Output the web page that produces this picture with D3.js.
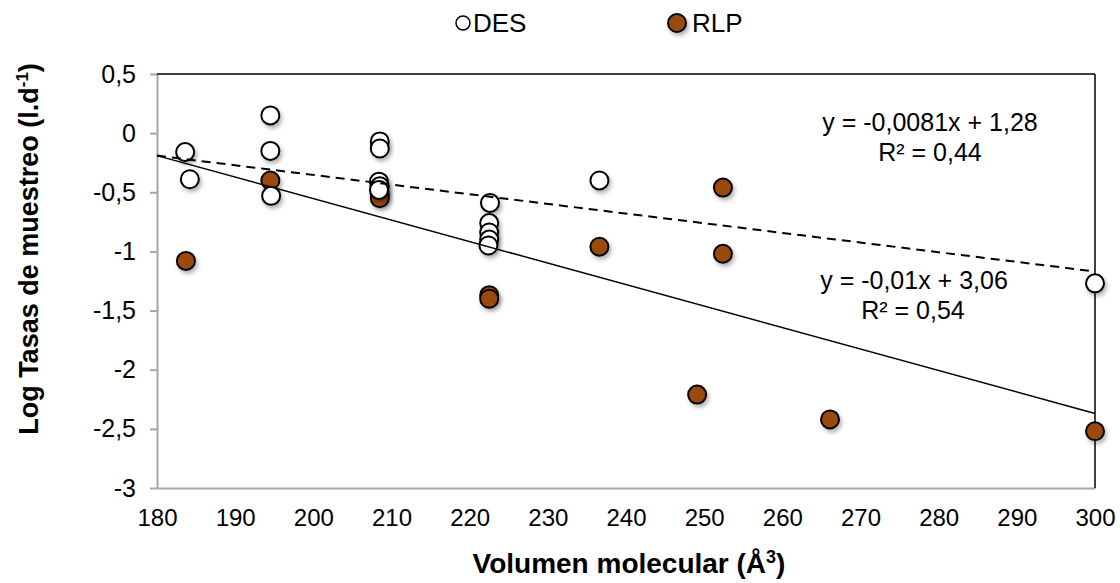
<!DOCTYPE html>
<html><head><meta charset="utf-8">
<script src="https://cdn.jsdelivr.net/npm/d3@7"></script>
<style>body{margin:0;background:#fff}svg{display:block}text{font-family:"Liberation Sans",Arial,sans-serif}</style>
</head><body><svg id="c" width="1120" height="583"></svg>
<script>
const desX = [183.6, 184.2, 194.5, 194.5, 194.6, 208.5, 208.5, 208.4, 208.5, 208.4, 222.6, 222.5, 222.5, 222.5, 222.4, 236.6, 300];
const desY = [-0.16, -0.39, 0.15, -0.15, -0.53, -0.07, -0.13, -0.41, -0.45, -0.48, -0.59, -0.76, -0.84, -0.90, -0.95, -0.40, -1.27];
const rlpX = [183.7, 194.5, 208.5, 208.5, 222.5, 222.5, 236.6, 249.1, 252.4, 252.4, 266.1, 300];
const rlpY = [-1.08, -0.40, -0.52, -0.55, -1.37, -1.40, -0.96, -2.21, -0.46, -1.02, -2.42, -2.52];
const trendDesX = [180, 300], trendDesY = [-0.19, -1.17];
const trendRlpX = [180, 300], trendRlpY = [-0.19, -2.37];
const xTicks = [180,190,200,210,220,230,240,250,260,270,280,290,300];
const yTicks = [0.5,0,-0.5,-1,-1.5,-2,-2.5,-3];
const seriesNames = ["DES","RLP"];
const eqDes = ["y = -0,0081x + 1,28","R² = 0,44"];
const eqRlp = ["y = -0,01x + 3,06","R² = 0,54"];

const svg = d3.select("#c");
const L=157,R=1095,T=74,B=488;
const x = d3.scaleLinear().domain([180,300]).range([L,R]);
const y = d3.scaleLinear().domain([-3,0.5]).range([B,T]);
const fmt = d => String(d).replace(".", ",");
const brown = "#9c4a0b";

const defs = svg.append("defs");
const f = defs.append("filter").attr("id","sh").attr("x","-50%").attr("y","-50%").attr("width","200%").attr("height","200%");
f.append("feDropShadow").attr("dx",2).attr("dy",3).attr("stdDeviation",2.2).attr("flood-color","#000").attr("flood-opacity",0.3);

// axes
const ya = svg.append("g").attr("transform",`translate(${L},0)`)
  .call(d3.axisLeft(y).tickValues(yTicks).tickFormat(fmt).tickSize(7).tickSizeOuter(0));
ya.select(".domain").attr("stroke","#a6a6a6").attr("stroke-width",2);
ya.selectAll(".tick line").attr("stroke","#a6a6a6").attr("stroke-width",2);
ya.selectAll(".tick text").attr("font-size",25).attr("fill","#000").attr("x",-21);

const xa = svg.append("g").attr("transform",`translate(0,${B})`)
  .call(d3.axisBottom(x).tickValues(xTicks).tickFormat(d3.format("d")).tickSize(0).tickSizeOuter(0));
xa.select(".domain").attr("stroke","#a6a6a6").attr("stroke-width",2);
xa.selectAll(".tick text").attr("font-size",24).attr("fill","#000").attr("y",21);

svg.append("line").attr("x1",L).attr("x2",R).attr("y1",T).attr("y2",T).attr("stroke","#000").attr("stroke-width",1.5);
svg.append("line").attr("x1",R).attr("x2",R).attr("y1",T).attr("y2",B).attr("stroke","#000").attr("stroke-width",1.5);

// points
svg.append("g").selectAll("circle").data(rlpX.map((v,i)=>[v,rlpY[i]])).join("circle")
  .attr("cx",d=>x(d[0])).attr("cy",d=>y(d[1])).attr("r",9)
  .attr("fill",brown).attr("stroke","#000").attr("stroke-width",2).attr("filter","url(#sh)");
svg.append("g").selectAll("circle").data(desX.map((v,i)=>[v,desY[i]])).join("circle")
  .attr("cx",d=>x(d[0])).attr("cy",d=>y(d[1])).attr("r",9)
  .attr("fill","#fff").attr("stroke","#000").attr("stroke-width",2).attr("filter","url(#sh)");

// trend lines
const line = d3.line().x(d=>x(d[0])).y(d=>y(d[1]));
svg.append("path").attr("d",line(trendDesX.map((v,i)=>[v,trendDesY[i]])))
  .attr("fill","none").attr("stroke","#000").attr("stroke-width",2).attr("stroke-dasharray","9,6");
svg.append("path").attr("d",line(trendRlpX.map((v,i)=>[v,trendRlpY[i]])))
  .attr("fill","none").attr("stroke","#000").attr("stroke-width",1.5);

// equations
const eq = svg.append("g").attr("font-size",25).attr("text-anchor","middle");
eq.append("text").attr("x",930).attr("y",131).text(eqDes[0]);
eq.append("text").attr("x",930).attr("y",161).text(eqDes[1]);
eq.append("text").attr("x",914).attr("y",289).text(eqRlp[0]);
eq.append("text").attr("x",913).attr("y",319).text(eqRlp[1]);

// legend
const lg = svg.append("g");
lg.append("circle").attr("cx",463).attr("cy",23).attr("r",7).attr("fill","#fff").attr("stroke","#000").attr("stroke-width",1.5);
lg.append("text").attr("x",473).attr("y",32).attr("font-size",26).text(seriesNames[0]);
lg.append("circle").attr("cx",677).attr("cy",23).attr("r",9).attr("fill",brown).attr("stroke","#000").attr("stroke-width",2).attr("filter","url(#sh)");
lg.append("text").attr("x",692).attr("y",32).attr("font-size",26).text(seriesNames[1]);

// axis titles
const xt = svg.append("text").attr("x",629).attr("y",573).attr("text-anchor","middle").attr("font-size",28).attr("font-weight","bold");
xt.append("tspan").text("Volumen molecular (Å");
xt.append("tspan").attr("font-size",18).attr("dy",-10).text("3");
xt.append("tspan").attr("dy",10).text(")");

const yt = svg.append("text").attr("transform","translate(38,249) rotate(-90)").attr("text-anchor","middle").attr("font-size",27).attr("font-weight","bold");
yt.append("tspan").text("Log Tasas de muestreo  (l.d");
yt.append("tspan").attr("font-size",17).attr("dy",-10).text("-1");
yt.append("tspan").attr("dy",10).text(")");
</script></body></html>
